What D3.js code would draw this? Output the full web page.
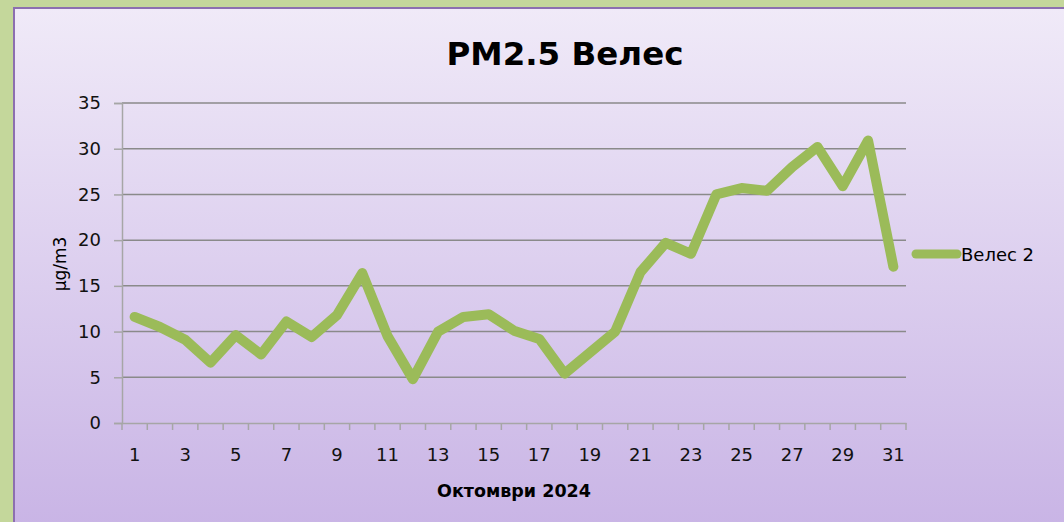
<!DOCTYPE html>
<html><head><meta charset="utf-8">
<script src="https://cdn.jsdelivr.net/npm/d3@7"></script>
<style>body{margin:0;padding:0;overflow:hidden;background:#c4d79b}</style>
</head><body>
<svg id="c" width="1064" height="522"></svg>
<script>
const days = d3.range(1, 32).map(String);
const values = [11.6,10.5,9.1,6.6,9.6,7.5,11.1,9.4,11.8,16.4,9.5,4.8,10.0,11.6,11.9,10.1,9.2,5.4,7.7,10.0,16.5,19.7,18.5,25.0,25.7,25.4,28.0,30.2,25.9,30.9,17.1];
const yTicks = [0,5,10,15,20,25,30,35];
const xTickLabels = days.filter((d,i)=>i%2===0);
const title = "PM2.5 Велес";
const seriesName = "Велес 2";
const xTitle = "Октомври 2024";
const yTitle = "µg/m3";

(function(){
const font = "'Comic Sans MS','DejaVu Sans',sans-serif";
const svg = d3.select("#c");
const defs = svg.append("defs");
const g1 = defs.append("linearGradient").attr("id","bg").attr("x1",0).attr("y1",0).attr("x2",0).attr("y2",1);
g1.append("stop").attr("offset","0%").attr("stop-color","#f0eaf8");
g1.append("stop").attr("offset","100%").attr("stop-color","#c8b3e5");

svg.append("rect").attr("width",1064).attr("height",522).attr("fill","#c4d79b");
svg.append("rect").attr("x",14).attr("y",8).attr("width",1060).attr("height",530)
  .attr("fill","url(#bg)").attr("stroke","#8c6fb0").attr("stroke-width",2);

const pL = 122, pR = 906, pT = 103, pB = 423;
const x = d3.scaleBand().domain(days).range([pL,pR]);
const y = d3.scaleLinear().domain([0,35]).range([pB,pT]);

svg.append("g").selectAll("line").data(yTicks.filter(v=>v>0)).join("line")
  .attr("x1",pL).attr("x2",pR).attr("y1",d=>y(d)).attr("y2",d=>y(d))
  .attr("stroke","#8a8a8a").attr("stroke-width",1.5);

const ya = svg.append("g").attr("transform",`translate(${pL},0)`)
  .call(d3.axisLeft(y).tickValues(yTicks).tickSize(8).tickPadding(13));
ya.select(".domain").attr("stroke","#a6a6a6").attr("stroke-width",1.5);
ya.selectAll(".tick line").attr("stroke","#a6a6a6").attr("stroke-width",1.5);
ya.selectAll("text").attr("font-family",font).attr("font-size",18).attr("fill","#111");

const xa = svg.append("g").attr("transform",`translate(0,${pB})`)
  .call(d3.axisBottom(x).tickValues([]).tickSizeOuter(0));
xa.select(".domain").attr("stroke","#a6a6a6").attr("stroke-width",1.5);
svg.append("g").selectAll("line").data(days.concat(["end"])).join("line")
  .attr("x1",(d,i)=>pL+i*x.step()).attr("x2",(d,i)=>pL+i*x.step())
  .attr("y1",pB).attr("y2",pB+7).attr("stroke","#a6a6a6").attr("stroke-width",1.5);
svg.append("g").selectAll("text").data(xTickLabels).join("text")
  .attr("x",d=>x(d)+x.bandwidth()/2).attr("y",pB+38).attr("text-anchor","middle")
  .attr("font-family",font).attr("font-size",18).attr("fill","#111").text(d=>d);

const line = d3.line().x((d,i)=>x(days[i])+x.bandwidth()/2).y(d=>y(d));
svg.append("path").datum(values).attr("d",line).attr("fill","none")
  .attr("stroke","#9bbb59").attr("stroke-width",10).attr("stroke-linejoin","round").attr("stroke-linecap","round");

svg.append("text").attr("x",565).attr("y",65).attr("text-anchor","middle")
  .attr("font-family",font).attr("font-weight","bold").attr("font-size",32.5).attr("fill","#000").text(title);
svg.append("text").attr("x",514).attr("y",497).attr("text-anchor","middle")
  .attr("font-family",font).attr("font-weight","bold").attr("font-size",17.5).attr("fill","#000").text(xTitle);
svg.append("text").attr("transform","translate(66,264) rotate(-90)").attr("text-anchor","middle")
  .attr("font-family",font).attr("font-size",17).attr("fill","#000").text(yTitle);

svg.append("line").attr("x1",916).attr("x2",957).attr("y1",254).attr("y2",254)
  .attr("stroke","#9bbb59").attr("stroke-width",9).attr("stroke-linecap","round");
svg.append("text").attr("x",961).attr("y",261).attr("font-family",font).attr("font-size",18).attr("fill","#000").text(seriesName);
})();
</script>
</body></html>
